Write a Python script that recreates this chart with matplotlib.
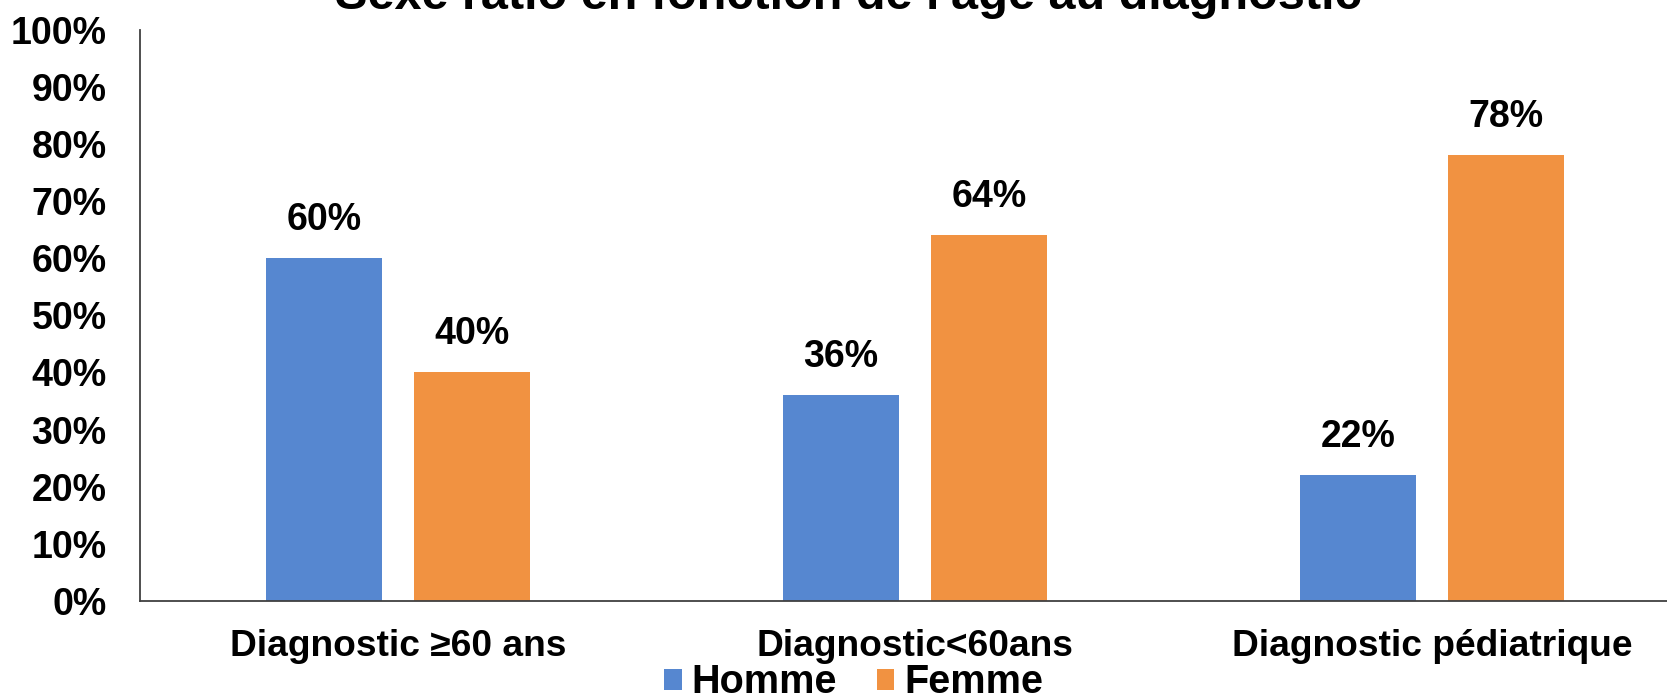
import matplotlib.pyplot as plt
import numpy as np

plt.rcParams['font.family'] = ['Liberation Sans', 'DejaVu Sans']
plt.rcParams['font.weight'] = 'bold'

categories = ["Diagnostic \u226560 ans", "Diagnostic<60ans", "Diagnostic p\u00e9diatrique"]
homme = [60, 36, 22]
femme = [40, 64, 78]
yticks = [0, 10, 20, 30, 40, 50, 60, 70, 80, 90, 100]

blue = "#5687D0"
orange = "#F19241"

fig = plt.figure(figsize=(16.67, 6.95), dpi=100)
# axes run past the right edge, as in the original export
ax = fig.add_axes([0.0839, 0.1353, 0.930, 0.822])

x = np.arange(len(categories))
w = 0.224
off = 0.143
b1 = ax.bar(x - off, homme, w, color=blue, label="Homme")
b2 = ax.bar(x + off, femme, w, color=orange, label="Femme")

for bars in (b1, b2):
    for b in bars:
        ax.text(b.get_x() + b.get_width() / 2, b.get_height() + 3.5,
                f"{b.get_height():.0f}%", ha="center", va="bottom",
                fontsize=27, fontweight="bold")

ax.set_xlim(-0.5, 2.5)
ax.set_ylim(0, 100)
ax.set_yticks(yticks)
ax.set_yticklabels([f"{t}%" for t in yticks], fontsize=27, fontweight="bold")
ax.set_xticks(x)
ax.set_xticklabels(categories, fontsize=26.7, fontweight="bold")
ax.tick_params(axis="y", length=0, pad=24)
ax.tick_params(axis="x", length=0, pad=20)

for s in ("top", "right"):
    ax.spines[s].set_visible(False)
for s in ("left", "bottom"):
    ax.spines[s].set_color("#404040")
    ax.spines[s].set_linewidth(1.3)

fig.text(0.509, 0.987, "Sexe ratio en fonction de l'\u00e2ge au diagnostic",
         ha="center", va="baseline", fontsize=35, fontweight="bold")

fig.legend(loc="center", bbox_to_anchor=(0.512, 0.018), ncol=2, frameon=False,
           fontsize=28.5, handlelength=0.45, handleheight=0.45, handletextpad=0.25,
           columnspacing=1.0, borderpad=0)

fig.savefig("out.png", dpi=100)
